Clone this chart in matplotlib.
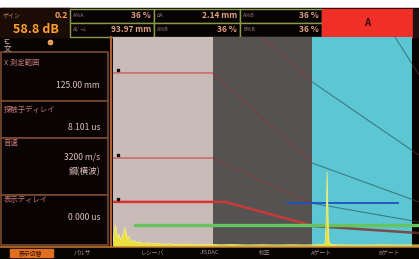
import matplotlib
matplotlib.use('Agg')
import matplotlib.pyplot as plt
from matplotlib.patches import Rectangle

plt.rcParams['font.family'] = ['Noto Sans CJK JP', 'DejaVu Sans']

# readings shown on the instrument
gain_label = 'ゲイン'
gain_step = '0.2'
gain_db = '58.8 dB'
head_labels = [['A%A', 'ΔA', 'A%B'], ['Aﾋﾞｰﾑ', 'A%B', 'B%B']]
head_values = [['36 %', '2.14 mm', '36 %'], ['93.97 mm', '36 %', '36 %']]
gate_tag = 'A'
panel_labels = ['X 測定範囲', '探触子ディレイ', '音速', '表示ディレイ']
panel_values = [['125.00 mm'], ['8.101 us'], ['3200 m/s', '鋼(横波)'], ['0.000 us']]
menu_labels = ['表示切替', 'パルサ', 'レシーバ', 'JISDAC', '校正', 'Aゲート', 'Bゲート']

# screen, % of width / % of height
band_edges = [0, 33.4, 66.6, 100]
dac1_x = [0, 33.4, 66.6, 102.3]
dac1_y = [82.8, 82.8, 39.7, 21.1]
dac2_x = [0, 33.4, 66.0, 102.3]
dac2_y = [42.1, 42.1, 20.6, 11.5]
dac3_x = [49.8, 66.6, 102.3]
dac3_y = [100, 78.5, 43.5]
dac4_x = [94.3, 102.3]
dac4_y = [100, 82.0]
dac_main_x = [0, 37.5, 63.5, 66.6, 102.3]
dac_main_y = [21.1, 21.1, 11.0, 9.6, 6.2]
dac_pts_x = [1.7, 1.7, 1.7]
dac_pts_y = [84.4, 43.5, 22.6]
gate_a = (7.4, 102.3, 10.0)
gate_b = (58.2, 95.3, 20.6)
ascan_x = [0.0, 0.4, 0.8, 1.1, 1.5, 2.0, 2.5, 3.0, 3.5, 4.0, 4.4, 4.8, 5.3, 6.0, 7.0,
           8.0, 9.0, 10.0, 11.5, 13.0, 15, 17, 19, 21, 24, 28, 32, 36, 40, 45,
           50, 55, 60, 64, 68, 70.5, 71.0, 71.3, 71.6, 71.9, 72.2, 72.8, 75, 80, 85,
           90, 95, 100, 102.3]
ascan_y = [2.0, 6.5, 10.0, 7.0, 4.5, 5.5, 3.0, 4.0, 6.5, 8.6, 6.0, 3.5, 4.5, 2.0, 2.6,
           1.5, 2.0, 1.2, 1.6, 1.0, 1.3, 0.8, 1.1, 0.7, 0.9, 0.6, 0.8, 0.6, 0.7, 0.5,
           0.6, 0.5, 0.6, 0.5, 0.6, 0.8, 2.0, 12.0, 35.4, 12.0, 2.0, 0.8, 0.6, 0.5, 0.5,
           0.6, 0.5, 0.5, 0.5]

W, H = 419, 259
fig = plt.figure(figsize=(W / 100, H / 100), dpi=100)
fig.patch.set_facecolor('white')

ui = fig.add_axes([0, 0, 1, 1])
ui.set_xlim(0, W)
ui.set_ylim(H, 0)
ui.axis('off')

def box(x, y, w, h, fc, ec=None, lw=1.0):
    ui.add_patch(Rectangle((x, y), w, h, facecolor=fc,
                           edgecolor=ec if ec else fc, linewidth=lw))

# whole dark body
box(0, 8, W, H - 8, '#080303')

# header
box(0, 8, 70, 29, '#1c0c06')
ui.text(3, 15.5, gain_label, fontsize=4.3, color='#c08a70', va='center')
ui.text(68, 15.5, gain_step, fontsize=6.5, color='#f0a060', weight='bold',
        va='center', ha='right')
ui.text(36, 29.5, gain_db, fontsize=9, color='#ffa030', weight='bold',
        va='center', ha='center')
cols = [70, 154, 240, 322]
for r in range(2):
    y0 = 8.5 + r * 14
    for c in range(3):
        x0, x1 = cols[c], cols[c + 1]
        box(x0, y0, x1 - x0, 14, '#070303', '#8a9a48', 1.0)
        ui.text(x0 + 3, y0 + 7, head_labels[r][c], fontsize=3.8,
                color='#9a7a7a', va='center')
        ui.text(x1 - 3, y0 + 7, head_values[r][c], fontsize=6,
                color='#e0a080', weight='bold', va='center', ha='right')
box(322, 8.5, 91, 28, '#f03028')
ui.text(367, 22.5, gate_tag, fontsize=7, color='#3a0505', weight='bold',
        ha='center', va='center')
box(413, 8.5, 6, 28, '#201010')

# left panel
ui.text(4, 41.5, 'ﾓﾆ', fontsize=5, color='#d0b0b0', va='center')
ui.text(4, 48.5, '文', fontsize=5.5, color='#d0b0b0', va='center')
ui.plot(50, 42, 'o', ms=3.5, color='#f09040', mec='#ffd080', mew=0.5)
box_y = [52, 101, 138, 195, 245]
lab_dy = [11, 9, 5, 5]
val_dy = [[34], [26], [19, 34], [22]]
for i in range(4):
    y0, y1 = box_y[i], box_y[i + 1]
    box(1, y0, 107, y1 - y0, '#0a0303', '#7a4a30', 1.2)
    ui.text(4, y0 + lab_dy[i], panel_labels[i], fontsize=5.3,
            color='#c87878', va='center')
    for v, dy in zip(panel_values[i], val_dy[i]):
        ui.text(100, y0 + dy, v, fontsize=6.2, color='#dcc0bc',
                va='center', ha='right')
ui.plot([110.5, 110.5], [37, 246], color='#b06030', lw=1.5)
ui.plot([0, W], [246.5, 246.5], color='#c07030', lw=1.2)

# bottom menu
menu_x = [31, 82, 152, 210, 265, 322, 389]
box(10, 249, 43, 8, '#e07020')
for i, (lab, mx) in enumerate(zip(menu_labels, menu_x)):
    ui.text(mx, 253, lab, fontsize=4.2, ha='center', va='center',
            color='#3a1005' if i == 0 else '#a09090')

# A-scan screen
px0, px1, py0, py1 = 113, 419, 37, 246
sc = fig.add_axes([px0 / W, (H - py1) / H, (px1 - px0) / W, (py1 - py0) / H])
sc.set_xlim(0, (px1 - px0) / 2.99)
sc.set_ylim(0, 100)
sc.set_facecolor('#050202')
sc.axis('off')
band_colors = ['#c9bcb8', '#555351', '#5cc6d2']
for (b0, b1), c in zip(zip(band_edges[:-1], band_edges[1:]), band_colors):
    sc.axvspan(b0, b1, color=c, lw=0, zorder=0)

clip_edges = [0, 33.4, 66.6, 100, 103]

def clipped_plot(xs, ys, colors, lw):
    for (x0, x1), c in zip(zip(clip_edges[:-1], clip_edges[1:]), colors):
        ln, = sc.plot(xs, ys, color=c, lw=lw, zorder=1,
                      solid_capstyle='butt', solid_joinstyle='miter')
        ln.set_clip_path(Rectangle((x0, -10), x1 - x0, 130,
                                   transform=sc.transData))

thin_cols = ['#cc4848', '#7e3c3c', '#3a7d86', '#3a2424']
for xs, ys in [(dac1_x, dac1_y), (dac2_x, dac2_y), (dac3_x, dac3_y),
               (dac4_x, dac4_y)]:
    clipped_plot(xs, ys, thin_cols, 0.8)
clipped_plot(dac_main_x, dac_main_y,
             ['#e03030', '#c83a3a', '#7a4a44', '#5a2a24'], 1.8)
sc.plot(dac_pts_x, dac_pts_y, 's', ms=1.6, color='#101010', zorder=3)

sc.plot(gate_a[:2], [gate_a[2]] * 2, color='#66c460', lw=2.4, zorder=2)
sc.plot(gate_b[:2], [gate_b[2]] * 2, color='#2050c0', lw=1.3, zorder=2)

sc.fill_between(ascan_x, 0, ascan_y, color='#ece040', lw=0, zorder=4)
sc.plot(ascan_x, ascan_y, color='#f4f07a', lw=0.6, zorder=4)

fig.savefig('out.png', dpi=100, facecolor=fig.get_facecolor())
